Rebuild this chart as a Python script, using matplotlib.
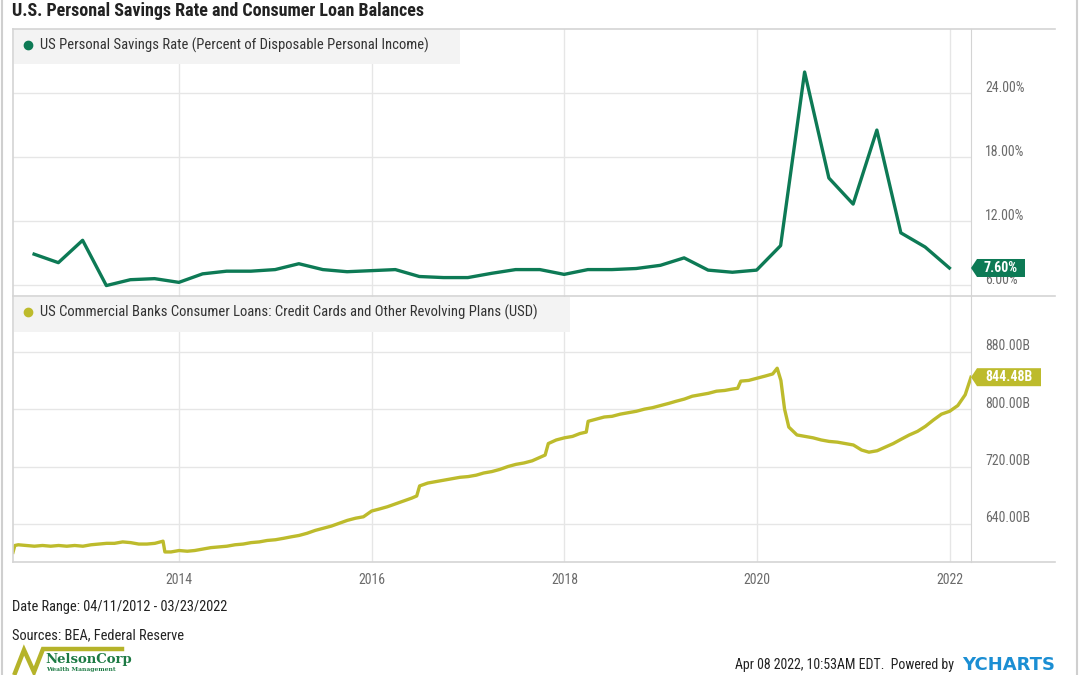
import matplotlib
matplotlib.use("Agg")
import matplotlib.pyplot as plt
import matplotlib.dates as mdates
from matplotlib import font_manager
from matplotlib.patches import Rectangle, Polygon
from matplotlib.lines import Line2D
from matplotlib.transforms import ScaledTranslation
import pandas as pd

# ---------------------------------------------------------------
#   DATA
# ---------------------------------------------------------------

# Personal savings rate, quarterly (quarter end dates), percent
savings_first_quarter = "2012-04-01"
savings_last_quarter = "2021-10-01"
savings_rate = [8.9, 8.1, 10.2, 5.95, 6.5, 6.6, 6.25, 7.05, 7.3, 7.3,
                7.45, 8.0, 7.45, 7.25, 7.35, 7.45, 6.8, 6.7, 6.7, 7.1,
                7.45, 7.45, 7.0, 7.45, 7.45, 7.55, 7.85, 8.55, 7.4, 7.2,
                7.4, 9.7, 26.0, 16.05, 13.6, 20.55, 10.9, 9.57, 7.6]

# Credit card / revolving loans, billions USD
loan_dates = ["2012-04-11", "2012-04-18", "2012-05-01", "2012-06-01", "2012-07-01",
              "2012-08-01", "2012-09-01", "2012-10-01", "2012-11-01", "2012-12-01",
              "2013-01-01", "2013-02-01", "2013-03-01", "2013-04-01", "2013-05-01",
              "2013-06-01", "2013-07-01", "2013-08-01", "2013-09-01", "2013-10-01",
              "2013-11-01", "2013-11-08", "2013-12-01",
              "2014-01-01", "2014-02-01", "2014-03-01", "2014-04-01", "2014-05-01",
              "2014-06-01", "2014-07-01", "2014-08-01", "2014-09-01", "2014-10-01",
              "2014-11-01", "2014-12-01",
              "2015-01-01", "2015-02-01", "2015-03-01", "2015-04-01", "2015-05-01",
              "2015-06-01", "2015-07-01", "2015-08-01", "2015-09-01", "2015-10-01",
              "2015-11-01", "2015-12-01",
              "2016-01-01", "2016-02-01", "2016-03-01", "2016-04-01", "2016-05-01",
              "2016-06-01", "2016-06-20", "2016-07-01", "2016-08-01", "2016-09-01",
              "2016-10-01", "2016-11-01", "2016-12-01",
              "2017-01-01", "2017-02-01", "2017-03-01", "2017-04-01", "2017-05-01",
              "2017-06-01", "2017-07-01", "2017-08-01", "2017-09-01", "2017-10-01",
              "2017-10-20", "2017-11-01", "2017-12-01",
              "2018-01-01", "2018-02-01", "2018-03-01", "2018-03-25", "2018-04-01",
              "2018-05-01", "2018-06-01", "2018-07-01", "2018-08-01", "2018-09-01",
              "2018-10-01", "2018-11-01", "2018-12-01",
              "2019-01-01", "2019-02-01", "2019-03-01", "2019-04-01", "2019-05-01",
              "2019-06-01", "2019-07-01", "2019-08-01", "2019-09-01", "2019-10-01",
              "2019-10-20", "2019-11-01", "2019-12-01",
              "2020-01-01", "2020-02-01", "2020-03-01", "2020-03-18", "2020-04-01",
              "2020-04-15", "2020-05-01", "2020-06-01", "2020-07-01", "2020-08-01",
              "2020-09-01", "2020-10-01", "2020-11-01", "2020-12-01",
              "2021-01-01", "2021-02-01", "2021-03-01", "2021-04-01", "2021-05-01",
              "2021-06-01", "2021-07-01", "2021-08-01", "2021-09-01", "2021-10-01",
              "2021-11-01", "2021-12-01",
              "2022-01-01", "2022-02-01", "2022-03-01", "2022-03-23"]
loan_values = [600.5, 610, 611, 610, 609, 610, 609, 610, 609, 610,
               609, 611, 612, 613, 613, 615, 614, 612, 612, 613,
               616, 601, 601,
               603, 602, 603, 605, 607, 608, 609, 611, 612, 614, 615, 617,
               618, 620, 622, 624, 627, 631, 634, 637, 641, 645, 648, 650,
               658, 661, 664, 668, 672, 676, 679, 693, 697, 699, 701, 703, 705,
               706, 708, 711, 713, 716, 720, 723, 725, 728, 733, 736, 752, 757,
               760, 762, 766, 768, 783, 786, 789, 790, 793, 795, 797, 800, 802,
               805, 808, 811, 814, 818, 820, 822, 825, 826, 828, 829, 839, 840,
               843, 846, 849, 857, 840, 800, 775, 764, 762, 760, 757, 755, 754, 752,
               750, 743, 740, 742, 747, 752, 758, 764, 769, 776, 785, 793,
               797, 805, 820, 844.48]

x_start = "2012-04-11"
x_end = "2022-03-23"
year_ticks = [2014, 2016, 2018, 2020, 2022]
savings_ticks = [6, 12, 18, 24]
loan_ticks = [640, 720, 800, 880]

# ---------------------------------------------------------------
#   STYLE
# ---------------------------------------------------------------
names = {f.name for f in font_manager.fontManager.ttflist}
if "Roboto Condensed" in names:
    cond = "Roboto Condensed"
elif "Liberation Sans Narrow" in names:
    cond = "Liberation Sans Narrow"
else:
    cond = "Roboto"
plt.rcParams["font.family"] = [cond, "DejaVu Sans"]

GREEN = "#0d7a55"
OLIVE = "#bdbb2c"
GRID = "#e6e6e6"
FRAME = "#d4d4d4"
TICKC = "#6b6b6b"

W, H = 1080, 675
fig = plt.figure(figsize=(W / 100, H / 100), dpi=100)


def fx(px):
    return px / W


def fy(py):
    return 1 - py / H


def add_ax(left, top, right, bottom):
    return fig.add_axes([fx(left), fy(bottom), (right - left) / W, (bottom - top) / H])


ax1 = add_ax(13, 29, 971, 296)
ax2 = add_ax(13, 296, 971, 562)

# quarter end dates for the savings series
sav_dates = pd.date_range(savings_first_quarter, savings_last_quarter, freq="3MS") + pd.offsets.MonthEnd(3)
ax1.plot(sav_dates, savings_rate, color=GREEN, lw=2.4, solid_joinstyle="round", zorder=3)
ax2.plot(pd.to_datetime(loan_dates), loan_values, color=OLIVE, lw=2.4,
         solid_joinstyle="round", zorder=3)

xlim = (pd.Timestamp(x_start), pd.Timestamp(x_end))
tick_dates = [pd.Timestamp(f"{y}-01-01") for y in year_ticks]
label_shift = ScaledTranslation(0, 0.07, fig.dpi_scale_trans)

for ax, ylim, ticks, fmt in [(ax1, (4.97, 30.04), savings_ticks, "{:.2f}%"),
                             (ax2, (587, 957.6), loan_ticks, "{:.2f}B")]:
    ax.set_xlim(xlim)
    ax.set_ylim(ylim)
    ax.set_xticks(tick_dates)
    ax.set_yticks(ticks)
    ax.set_yticklabels([fmt.format(t) for t in ticks])
    ax.yaxis.tick_right()
    ax.tick_params(axis="y", length=0, pad=10, labelsize=10, labelcolor=TICKC)
    for lab in ax.get_yticklabels():
        lab.set_transform(lab.get_transform() + label_shift)
    ax.grid(True, color=GRID, lw=1)
    ax.set_axisbelow(True)
    for s in ["top", "left", "bottom"]:
        ax.spines[s].set_visible(False)
    ax.spines["right"].set_color(FRAME)
    ax.patch.set_alpha(0)

ax1.tick_params(axis="x", length=0, labelbottom=False)
ax2.tick_params(axis="x", length=0, pad=8, labelsize=10, labelcolor=TICKC)
ax2.set_xticklabels([str(y) for y in year_ticks])

# panel frame lines
for (x0, y0, x1, y1) in [(13, 29, 1055, 29), (13, 296, 1055, 296), (13, 562, 1055, 562),
                         (13, 29, 13, 562)]:
    fig.add_artist(Line2D([fx(x0), fx(x1)], [fy(y0), fy(y1)], color=FRAME, lw=1.2))
# page borders
for xb in [2, 1077]:
    fig.add_artist(Line2D([fx(xb), fx(xb)], [0, 1], color="#cfcfcf", lw=1.5))

# legend boxes
fig.add_artist(Rectangle((fx(14), fy(64)), (460 - 14) / W, 35 / H, facecolor="#f3f3f3",
                         edgecolor="none", transform=fig.transFigure, zorder=1))
fig.add_artist(Rectangle((fx(14), fy(332)), (570 - 14) / W, 35 / H, facecolor="#f3f3f3",
                         edgecolor="none", transform=fig.transFigure, zorder=1))
fig.add_artist(Line2D([fx(28)], [fy(45)], marker="o", ms=6, color=GREEN, zorder=2))
fig.add_artist(Line2D([fx(28)], [fy(312)], marker="o", ms=6, color=OLIVE, zorder=2))
fig.text(fx(40), fy(45), "US Personal Savings Rate (Percent of Disposable Personal Income)",
         fontsize=10.5, color="#333333", va="center", zorder=3)
fig.text(fx(40), fy(312), "US Commercial Banks Consumer Loans: Credit Cards and Other Revolving Plans (USD)",
         fontsize=10.5, color="#333333", va="center", zorder=3)


# last value boxes
def value_box(ax, x, y, text, color, width):
    px, py = ax.transData.transform((mdates.date2num(x), y))
    tipx, tipy = 971, H - py
    pts = [(tipx, tipy), (tipx + 6, tipy - 9), (tipx + 6 + width, tipy - 9),
           (tipx + 6 + width, tipy + 9), (tipx + 6, tipy + 9)]
    fig.add_artist(Polygon([(fx(a), fy(b)) for a, b in pts], closed=True, facecolor=color,
                           edgecolor="none", transform=fig.transFigure, zorder=5))
    fig.text(fx(tipx + 6 + width / 2), fy(tipy), text, color="white", fontsize=10,
             fontweight="bold", ha="center", va="center", zorder=6)


value_box(ax1, sav_dates[-1], savings_rate[-1], "7.60%", GREEN, 48)
value_box(ax2, pd.Timestamp(loan_dates[-1]), loan_values[-1], "844.48B", OLIVE, 64)

# title and footer
fig.text(fx(12), fy(11), "U.S. Personal Savings Rate and Consumer Loan Balances",
         fontsize=13, fontweight="bold", color="#222222", va="center")
fig.text(fx(12), fy(607), "Date Range: 04/11/2012 - 03/23/2022", fontsize=10.4,
         color="#222222", va="center")
fig.text(fx(12), fy(635), "Sources: BEA, Federal Reserve", fontsize=10.4,
         color="#222222", va="center")
fig.text(fx(957), fy(665), "Apr 08 2022, 10:53AM EDT.  Powered by ", fontsize=10,
         color="#222222", va="center", ha="right")
fig.text(fx(962), fy(665), "YCHARTS", fontsize=13, fontweight="bold", color="#1b8ed3",
         va="center", ha="left", family="DejaVu Sans")

# logo
fig.add_artist(Line2D([fx(p) for p in [15, 24, 34, 43, 122]],
                      [fy(p) for p in [673, 650, 672, 649, 649]],
                      color="#b5b32a", lw=3.2, solid_joinstyle="miter"))
fig.text(fx(45), fy(660), "NelsonCorp", fontsize=9.5, fontweight="bold",
         color="#1d7a44", va="center", family="DejaVu Serif")
fig.text(fx(46), fy(670), "Wealth Management", fontsize=4.3, fontweight="bold",
         color="#1d7a44", va="center", family="DejaVu Serif")

fig.savefig("out.png", dpi=100)
